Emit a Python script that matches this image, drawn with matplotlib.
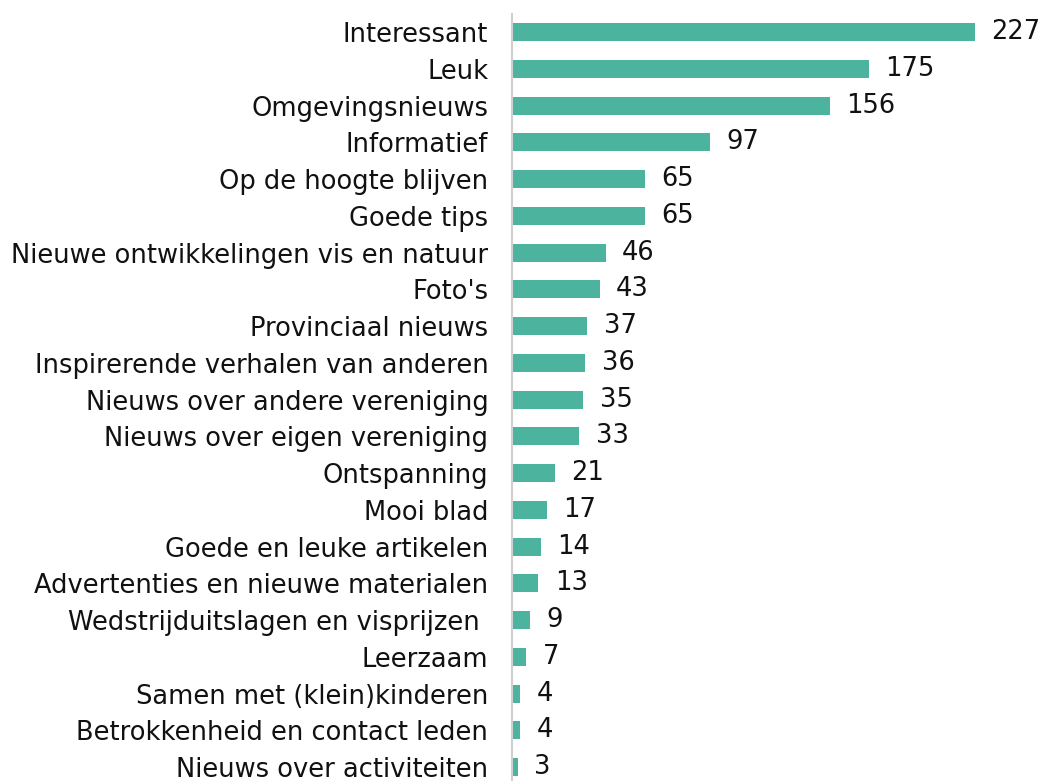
import matplotlib
matplotlib.use("Agg")
import matplotlib.pyplot as plt

categories = [
    "Interessant",
    "Leuk",
    "Omgevingsnieuws",
    "Informatief",
    "Op de hoogte blijven",
    "Goede tips",
    "Nieuwe ontwikkelingen vis en natuur",
    "Foto's",
    "Provinciaal nieuws",
    "Inspirerende verhalen van anderen",
    "Nieuws over andere vereniging",
    "Nieuws over eigen vereniging",
    "Ontspanning",
    "Mooi blad",
    "Goede en leuke artikelen",
    "Advertenties en nieuwe materialen",
    "Wedstrijduitslagen en visprijzen ",
    "Leerzaam",
    "Samen met (klein)kinderen",
    "Betrokkenheid en contact leden",
    "Nieuws over activiteiten",
]
counts = [227, 175, 156, 97, 65, 65, 46, 43, 37, 36, 35, 33, 21, 17, 14, 13, 9, 7, 4, 4, 3]

bar_color = "#4BB39E"

fig = plt.figure(figsize=(10.44, 7.81), dpi=100)
ax = fig.add_axes([0.4904, 0.0, 0.5096, 0.982])

y = range(len(categories))
ax.barh(y, counts, height=0.49, color=bar_color)

for yi, v in zip(y, counts):
    ax.text(v + 8, yi, str(v), va="center", ha="left", fontsize=18.5, color="#111111")

ax.set_yticks(list(y))
ax.set_yticklabels(categories, fontsize=18.5, color="#111111")
ax.tick_params(axis="y", length=0, pad=17)
ax.set_xticks([])
ax.set_xlim(0, 260.8)
ax.set_ylim(20.38, -0.49)

for s in ["top", "right", "bottom"]:
    ax.spines[s].set_visible(False)
ax.spines["left"].set_color("#d0d0d0")
ax.spines["left"].set_linewidth(1.5)

fig.savefig("out.png", dpi=100)
